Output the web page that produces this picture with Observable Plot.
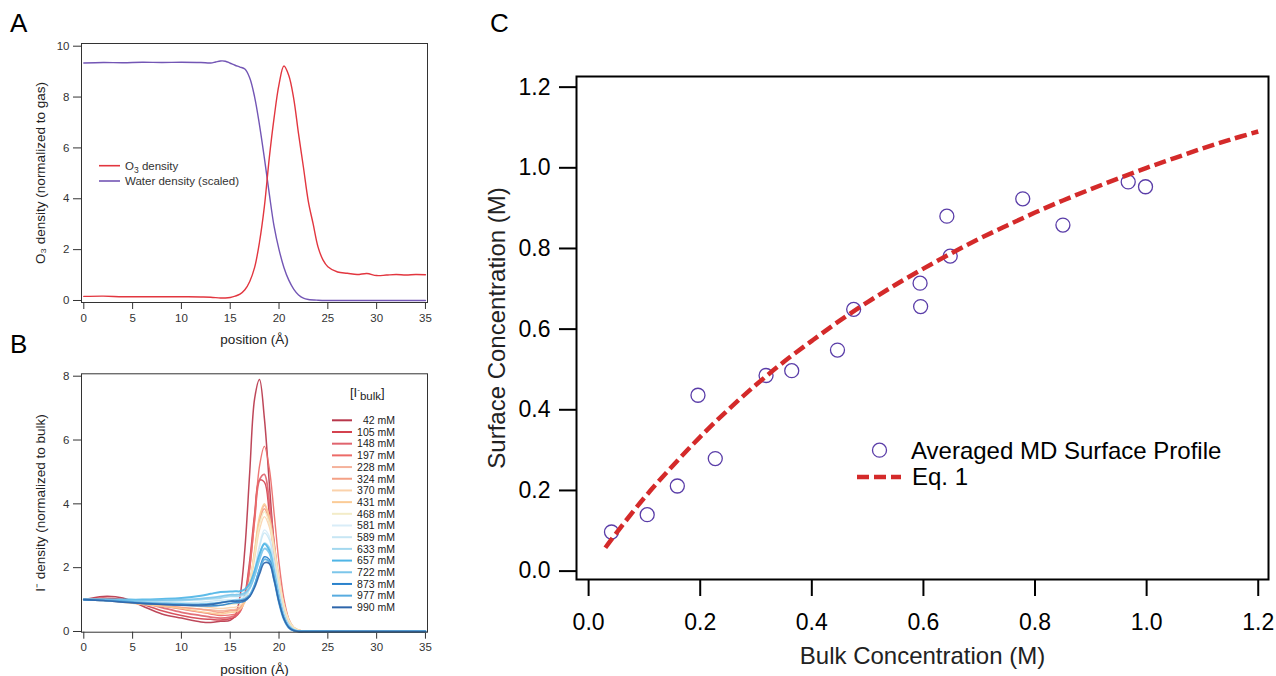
<!DOCTYPE html>
<html><head><meta charset="utf-8">
<script src="https://cdn.jsdelivr.net/npm/d3@7"></script>
<script src="https://cdn.jsdelivr.net/npm/@observablehq/plot@0.6"></script>
<style>
html,body{margin:0;padding:0;background:#fff;}
#wrap{position:relative;width:1276px;height:676px;overflow:hidden;background:#fff;}
.panel{position:absolute;}
#overlay{position:absolute;left:0;top:0;pointer-events:none;}
</style></head><body><div id="wrap">
<div id="pa" class="panel" style="left:0;top:0"></div>
<div id="pb" class="panel" style="left:0;top:350px"></div>
<div id="pc" class="panel" style="left:480px;top:0"></div>
<svg id="overlay" width="1276" height="676"></svg>
</div>
<script>
const FONT = '"Liberation Sans", Arial, Helvetica, sans-serif';

// ---------- Panel A data ----------
const xWater = [0, 2, 4, 6, 8, 10, 12, 13, 13.5, 14, 14.5, 15, 15.5, 16, 16.5, 17, 17.5, 18, 18.5, 19, 19.5, 20, 20.5, 21, 21.5, 22, 22.5, 23, 24, 25, 30, 35];
const water = [9.34, 9.36, 9.35, 9.37, 9.36, 9.37, 9.36, 9.34, 9.38, 9.42, 9.41, 9.33, 9.25, 9.18, 9.1, 8.75, 8.0, 6.9, 5.6, 4.2, 2.9, 2.0, 1.3, 0.8, 0.45, 0.22, 0.09, 0.04, 0.01, 0, 0, 0];
const xO3 = [0, 2, 4, 6, 8, 10, 12, 13, 14, 14.5, 15, 15.5, 16, 16.5, 17, 17.5, 18, 18.5, 19, 19.5, 20, 20.5, 21, 21.5, 22, 22.5, 23, 23.5, 24, 24.5, 25, 26, 27, 28, 29, 30, 31, 32, 33, 34, 35];
const o3 = [0.16, 0.17, 0.15, 0.15, 0.15, 0.15, 0.14, 0.13, 0.1, 0.1, 0.12, 0.17, 0.25, 0.42, 0.75, 1.3, 2.3, 3.7, 5.6, 7.2, 8.5, 9.22, 8.85, 7.95, 6.55, 5.24, 3.9, 3.0, 2.1, 1.6, 1.33, 1.12, 1.07, 1.02, 1.06, 0.98, 1.0, 1.02, 1.0, 1.02, 1.01];
const ticksPosition = [0, 5, 10, 15, 20, 25, 30, 35];
const ticksA = [0, 2, 4, 6, 8, 10];

// ---------- Panel B data ----------
const xB = [0, 2, 4, 6, 8, 10, 12, 13, 14, 15, 15.5, 16, 16.5, 17, 17.5, 18, 18.5, 19, 19.5, 20, 20.5, 21, 21.5, 22, 23, 35];
const labelsB = ["42 mM", "105 mM", "148 mM", "197 mM", "228 mM", "324 mM", "370 mM", "431 mM", "468 mM", "581 mM", "589 mM", "633 mM", "657 mM", "722 mM", "873 mM", "977 mM", "990 mM"];
const colorsB = ["#b8374b", "#d4424f", "#e0646e", "#ec6b68", "#f5b29b", "#f4a186", "#fbd2ab", "#fbcb96", "#f3ecc8", "#d9edf8", "#c7e6f4", "#a3d8ef", "#4fb5e6", "#7cc6ea", "#2a82cc", "#58ace0", "#2e66ab"];
const widthsB = [1.5, 1.5, 1.8, 1.4, 1.5, 1.5, 1.4, 1.6, 1.5, 1.4, 1.4, 1.8, 2.0, 1.8, 1.5, 2.0, 1.6];
const b42  = [1.0, 1.1, 1.05, 0.8, 0.55, 0.42, 0.3, 0.28, 0.32, 0.35, 0.5, 1.09, 2.58, 5.0, 7.3, 7.9, 6.68, 4.66, 2.68, 1.25, 0.47, 0.15, 0.04, 0.01, 0, 0];
const b105 = [1.0, 1.05, 1.0, 0.85, 0.65, 0.5, 0.4, 0.38, 0.36, 0.4, 0.45, 0.63, 1.15, 2.23, 3.68, 4.74, 4.68, 3.72, 2.41, 1.26, 0.54, 0.19, 0.05, 0.01, 0, 0];
const b148 = [1.0, 1.0, 0.95, 0.9, 0.75, 0.6, 0.5, 0.45, 0.42, 0.45, 0.49, 0.62, 1.06, 2.06, 3.51, 4.75, 4.92, 4.08, 2.76, 1.5, 0.68, 0.25, 0.07, 0.02, 0, 0];
const b197 = [1.0, 1.02, 0.98, 0.9, 0.8, 0.7, 0.6, 0.55, 0.5, 0.52, 0.54, 0.65, 1.02, 1.96, 3.53, 5.18, 5.8, 5.12, 3.69, 2.15, 1.03, 0.39, 0.12, 0.03, 0, 0];
const b228 = [1.0, 1.0, 0.95, 0.85, 0.8, 0.75, 0.7, 0.68, 0.65, 0.68, 0.69, 0.75, 0.96, 1.49, 2.45, 3.48, 3.95, 3.59, 2.71, 1.7, 0.87, 0.37, 0.13, 0.04, 0, 0];
const b324 = [1.0, 0.98, 0.93, 0.88, 0.82, 0.75, 0.7, 0.65, 0.6, 0.65, 0.66, 0.73, 0.95, 1.52, 2.47, 3.47, 3.85, 3.43, 2.54, 1.54, 0.79, 0.33, 0.12, 0.04, 0, 0];
const b370 = [1.0, 0.98, 0.95, 0.9, 0.85, 0.82, 0.78, 0.75, 0.72, 0.75, 0.76, 0.81, 0.99, 1.46, 2.29, 3.19, 3.6, 3.28, 2.47, 1.55, 0.79, 0.34, 0.12, 0.035, 0, 0];
const b431 = [1.0, 0.97, 0.92, 0.85, 0.8, 0.72, 0.62, 0.58, 0.55, 0.6, 0.61, 0.69, 0.92, 1.53, 2.54, 3.6, 4.0, 3.57, 2.64, 1.6, 0.82, 0.34, 0.12, 0.04, 0, 0];
const b468 = [1.0, 0.98, 0.95, 0.92, 0.88, 0.85, 0.83, 0.82, 0.82, 0.85, 0.86, 0.91, 1.1, 1.57, 2.42, 3.34, 3.75, 3.41, 2.57, 1.61, 0.83, 0.36, 0.12, 0.04, 0, 0];
const b581 = [1.0, 1.0, 0.97, 0.93, 0.9, 0.88, 0.88, 0.9, 0.92, 0.95, 0.95, 0.97, 1.06, 1.33, 1.93, 2.71, 3.18, 2.98, 2.22, 1.32, 0.62, 0.23, 0.07, 0.02, 0, 0];
const b589 = [1.0, 0.98, 0.95, 0.92, 0.9, 0.9, 0.92, 0.95, 0.98, 1.0, 1.0, 1.02, 1.1, 1.36, 1.91, 2.64, 3.09, 2.88, 2.15, 1.28, 0.6, 0.23, 0.07, 0.02, 0, 0];
const b633 = [1.0, 1.0, 0.98, 0.97, 0.96, 0.97, 1.0, 1.02, 1.05, 1.1, 1.1, 1.11, 1.17, 1.36, 1.78, 2.37, 2.77, 2.63, 1.95, 1.13, 0.5, 0.18, 0.05, 0.01, 0, 0];
const b657 = [1.0, 1.0, 1.0, 1.0, 1.02, 1.05, 1.12, 1.18, 1.24, 1.25, 1.26, 1.26, 1.32, 1.5, 1.9, 2.42, 2.74, 2.54, 1.83, 1.03, 0.45, 0.15, 0.04, 0.01, 0, 0];
const b722 = [1.0, 1.0, 0.98, 0.97, 0.98, 1.0, 1.03, 1.06, 1.1, 1.15, 1.15, 1.16, 1.21, 1.37, 1.74, 2.25, 2.6, 2.46, 1.82, 1.05, 0.47, 0.17, 0.045, 0.01, 0, 0];
const b873 = [1.0, 0.97, 0.93, 0.88, 0.85, 0.82, 0.8, 0.8, 0.82, 0.88, 0.9, 0.91, 0.95, 1.1, 1.45, 1.96, 2.34, 2.26, 1.67, 0.93, 0.4, 0.13, 0.03, 0, 0, 0];
const b977 = [1.0, 0.98, 0.95, 0.9, 0.88, 0.86, 0.85, 0.87, 0.9, 0.95, 0.97, 0.98, 1.02, 1.15, 1.46, 1.92, 2.26, 2.19, 1.61, 0.9, 0.38, 0.12, 0.03, 0, 0, 0];
const b990 = [1.0, 0.97, 0.92, 0.88, 0.85, 0.83, 0.83, 0.85, 0.9, 0.95, 0.95, 0.955, 0.99, 1.1, 1.38, 1.8, 2.15, 2.13, 1.61, 0.92, 0.4, 0.13, 0.03, 0, 0, 0];
const seriesB = [b42, b105, b148, b197, b228, b324, b370, b431, b468, b581, b589, b633, b657, b722, b873, b977, b990];
const ticksB = [0, 2, 4, 6, 8];

// ---------- Panel C data ----------
const bulk = [0.041, 0.105, 0.159, 0.196, 0.227, 0.318, 0.364, 0.446, 0.475, 0.594, 0.595, 0.642, 0.648, 0.778, 0.850, 0.967, 0.998];
const surface = [0.097, 0.140, 0.211, 0.436, 0.279, 0.485, 0.497, 0.548, 0.649, 0.714, 0.656, 0.880, 0.781, 0.923, 0.858, 0.965, 0.953];
const eqX = [0.03, 0.05, 0.1, 0.15, 0.2, 0.25, 0.3, 0.35, 0.4, 0.45, 0.5, 0.55, 0.6, 0.65, 0.7, 0.75, 0.8, 0.85, 0.9, 0.95, 1.0, 1.05, 1.1, 1.15, 1.2];
const eqY = [0.058, 0.095, 0.182, 0.26, 0.333, 0.40, 0.462, 0.519, 0.571, 0.621, 0.667, 0.71, 0.75, 0.788, 0.824, 0.857, 0.889, 0.919, 0.947, 0.974, 1.0, 1.024, 1.048, 1.07, 1.09];
const ticksC = [0, 0.2, 0.4, 0.6, 0.8, 1.0, 1.2];

const zip = (xs, ys) => xs.map((x, i) => ({x, y: ys[i]}));

function yTitle(s, dx, size) {
  return Plot.text([s], {text: d => d, frameAnchor: "left", dx, rotate: -90, textAnchor: "middle", lineAnchor: "middle", fontSize: size, fill: "#222"});
}
function xTitle(s, dy, size) {
  return Plot.text([s], {text: d => d, frameAnchor: "bottom", dy, textAnchor: "middle", lineAnchor: "middle", fontSize: size, fill: "#222"});
}

// ---------- Panel A ----------
const plotA = Plot.plot({
  width: 440, height: 350,
  marginLeft: 81, marginRight: 13, marginTop: 43, marginBottom: 48,
  style: {fontFamily: FONT, fontSize: "11.5px", color: "#333", background: "transparent", overflow: "visible"},
  x: {domain: [-0.236, 35.21]},
  y: {domain: [-0.079, 10.106]},
  marks: [
    Plot.axisX({ticks: ticksPosition, tickSize: 7, tickPadding: 4, label: null}),
    Plot.axisY({ticks: ticksA, tickSize: 8, tickPadding: 4, label: null}),
    Plot.line(zip(xWater, water), {x: "x", y: "y", stroke: "#7356b5", strokeWidth: 1.4, curve: "catmull-rom"}),
    Plot.line(zip(xO3, o3), {x: "x", y: "y", stroke: "#e2363f", strokeWidth: 1.4, curve: "catmull-rom"}),
    Plot.frame({stroke: "#333", strokeWidth: 1}),
    yTitle("O₃ density (normalized to gas)", -41, 13.5),
    xTitle("position (Å)", 37, 13.5)
  ]
});
document.getElementById("pa").append(plotA);

// ---------- Panel B ----------
const linesB = seriesB.map((vals, i) => Plot.line(zip(xB, vals), {
  x: "x", y: "y", stroke: colorsB[i], strokeWidth: widthsB[i], strokeOpacity: 0.92, curve: "catmull-rom"
}));
const plotB = Plot.plot({
  width: 440, height: 326,
  marginLeft: 81, marginRight: 13, marginTop: 23.3, marginBottom: 44.3,
  style: {fontFamily: FONT, fontSize: "11.5px", color: "#333", background: "transparent", overflow: "visible"},
  x: {domain: [-0.236, 35.21]},
  y: {domain: [-0.022, 8.075]},
  marks: [
    Plot.axisX({ticks: ticksPosition, tickSize: 7, tickPadding: 4, label: null}),
    Plot.axisY({ticks: ticksB, tickSize: 8, tickPadding: 4, label: null}),
    ...linesB,
    Plot.frame({stroke: "#333", strokeWidth: 1}),
    yTitle("I⁻ density (normalized to bulk)", -41, 13.5),
    xTitle("position (Å)", 37, 13.5)
  ]
});
document.getElementById("pb").append(plotB);

// ---------- Panel C ----------
const plotC = Plot.plot({
  width: 796, height: 676,
  marginLeft: 96, marginRight: 8, marginTop: 76, marginBottom: 97,
  style: {fontFamily: FONT, fontSize: "23px", color: "#000", background: "transparent", overflow: "visible"},
  x: {domain: [-0.0217, 1.2184]},
  y: {domain: [-0.0208, 1.2264]},
  marks: [
    Plot.axisX({ticks: ticksC, tickFormat: d3.format(".1f"), tickSize: 17, tickPadding: 17, strokeWidth: 2, fontSize: 23, label: null}),
    Plot.axisY({ticks: ticksC, tickFormat: d3.format(".1f"), tickSize: 17, tickPadding: 9, strokeWidth: 2, fontSize: 23, label: null}),
    Plot.dot(zip(bulk, surface), {x: "x", y: "y", r: 7, stroke: "#5a3da8", strokeWidth: 1.3, fill: "none"}),
    Plot.line(zip(eqX, eqY), {x: "x", y: "y", stroke: "#d42a2a", strokeWidth: 4.5, strokeDasharray: "12,5", strokeLinecap: "butt", curve: "catmull-rom"}),
    Plot.frame({stroke: "#000", strokeWidth: 2}),
    yTitle("Surface Concentration (M)", -79, 24),
    xTitle("Bulk Concentration (M)", 77, 24)
  ]
});
document.getElementById("pc").append(plotC);

// ---------- Overlay: panel letters and legends ----------
const ov = d3.select("#overlay");
function txt(x, y, s, size, anchor = "start", fill = "#000") {
  return ov.append("text").attr("x", x).attr("y", y).attr("font-size", size)
    .attr("text-anchor", anchor).attr("fill", fill).attr("font-family", FONT).text(s);
}
txt(10, 32, "A", 26);
txt(10, 353, "B", 26);
txt(490, 32, "C", 26);

// Legend A
ov.append("line").attr("x1", 99).attr("x2", 120).attr("y1", 165.7).attr("y2", 165.7).attr("stroke", "#e2363f").attr("stroke-width", 1.6);
ov.append("line").attr("x1", 99).attr("x2", 120).attr("y1", 181).attr("y2", 181).attr("stroke", "#7356b5").attr("stroke-width", 1.6);
const ta = ov.append("text").attr("x", 125).attr("y", 170).attr("font-size", 11.5).attr("fill", "#333").attr("font-family", FONT);
ta.append("tspan").text("O");
ta.append("tspan").attr("dy", 3).attr("font-size", 8.5).text("3");
ta.append("tspan").attr("dy", -3).text(" density");
txt(125, 185, "Water density (scaled)", 11.5, "start", "#333");

// Legend B
const tb = ov.append("text").attr("x", 350).attr("y", 397).attr("font-size", 13).attr("fill", "#222").attr("font-family", FONT);
tb.append("tspan").text("[I");
tb.append("tspan").attr("dy", -5).attr("font-size", 8).text("-");
tb.append("tspan").attr("dy", 8).attr("font-size", 11.5).text("bulk");
tb.append("tspan").attr("dy", -3).text("]");
labelsB.forEach((lab, i) => {
  const y = 420.3 + i * 11.69;
  ov.append("line").attr("x1", 332).attr("x2", 352).attr("y1", y).attr("y2", y).attr("stroke", colorsB[i]).attr("stroke-width", 2);
  txt(395, y + 3.8, lab, 10.5, "end", "#222");
});

// Legend C
ov.append("circle").attr("cx", 879.5).attr("cy", 450.2).attr("r", 7).attr("fill", "none").attr("stroke", "#5a3da8").attr("stroke-width", 1.3);
txt(911, 459, "Averaged MD Surface Profile", 24);
ov.append("line").attr("x1", 857).attr("x2", 901).attr("y1", 477).attr("y2", 477).attr("stroke", "#d42a2a").attr("stroke-width", 4.5).attr("stroke-dasharray", "12,5");
txt(912, 485, "Eq. 1", 24);
</script></body></html>
